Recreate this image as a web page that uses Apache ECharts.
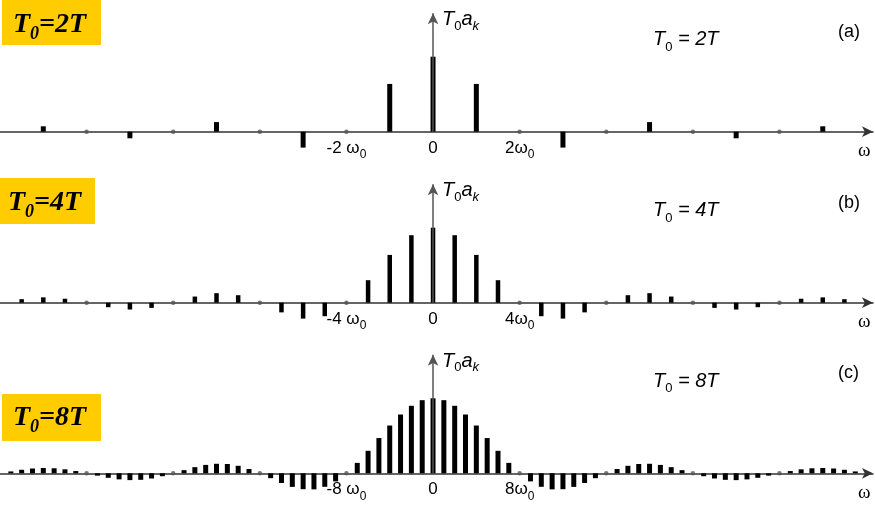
<!DOCTYPE html>
<html><head><meta charset="utf-8">
<script src="https://cdn.jsdelivr.net/npm/echarts@6/dist/echarts.min.js"></script>
<style>html,body{margin:0;padding:0;background:#fff}#c{width:875px;height:508px}</style>
</head><body><div id="c"></div>
<script>
// ---- data (T0*a_k, normalised so that k=0 is 1) ----
const kA = [-9,-8,-7,-6,-5,-4,-3,-2,-1,0,1,2,3,4,5,6,7,8,9];
const valsA = [0.072,0,-0.088,0,0.128,0,-0.212,0,0.637,1,0.637,0,-0.212,0,0.128,0,-0.088,0,0.072];

const kB = [-19,-18,-17,-16,-15,-14,-13,-12,-11,-10,-9,-8,-7,-6,-5,-4,-3,-2,-1,0,1,2,3,4,5,6,7,8,9,10,11,12,13,14,15,16,17,18,19];
const valsB = [0.047,0.071,0.053,0,-0.060,-0.091,-0.069,0,0.082,0.127,0.100,0,-0.129,-0.212,-0.180,0,0.300,0.637,0.900,
  1,
  0.900,0.637,0.300,0,-0.180,-0.212,-0.129,0,0.100,0.127,0.082,0,-0.069,-0.091,-0.060,0,0.053,0.071,0.047];

const kC = [];
for (let k = -39; k <= 39; k++) kC.push(k);
const valsC = [0.025,0.047,0.064,0.071,0.067,0.053,0.030,0,-0.031,-0.060,-0.081,-0.091,-0.087,-0.069,-0.039,0,
  0.042,0.082,0.112,0.127,0.124,0.100,0.057,0,-0.065,-0.129,-0.181,-0.212,-0.214,-0.180,-0.108,0,
  0.139,0.300,0.470,0.637,0.784,0.900,0.975,
  1,
  0.975,0.900,0.784,0.637,0.470,0.300,0.139,0,
  -0.108,-0.180,-0.214,-0.212,-0.181,-0.129,-0.065,0,0.057,0.100,0.124,0.127,0.112,0.082,0.042,0,
  -0.039,-0.069,-0.087,-0.091,-0.081,-0.060,-0.031,0,0.030,0.053,0.067,0.071,0.064,0.047,0.025];

// omega0 for each case, in units where the envelope zeros are at integers
const omega0 = [0.5, 0.25, 0.125];

// tick positions (in multiples of omega0) and labels
const tickKA = [-2, 0, 2];
const tickKB = [-4, 0, 4];
const tickKC = [-8, 0, 8];
const tickLabA = ['{n|-2 ω}{s|0}', '{n|0}', '{n|2ω}{s|0}'];
const tickLabB = ['{n|-4 ω}{s|0}', '{n|0}', '{n|4ω}{s|0}'];
const tickLabC = ['{n|-8 ω}{s|0}', '{n|0}', '{n|8ω}{s|0}'];

const caseNames = ['2T', '4T', '8T'];
const tags = ['(a)', '(b)', '(c)'];

// ---- layout ----
const SANS = 'Liberation Sans';
const SERIF = 'Liberation Serif';
const unitPx = 75;
const yMax = 1.6, yMin = -0.3;
const axisYs = [131.7, 302.7, 473.3];
const barWs = [5, 4.5, 5];
const boxes = [[2, 0, 99, 45], [0, 178, 95, 46], [2, 394, 99, 47]];
const boxTextPos = [[13, 11], [8, 189], [13, 404]];

const panels = [
  {k: kA, v: valsA, ticks: tickKA, labs: tickLabA},
  {k: kB, v: valsB, ticks: tickKB, labs: tickLabB},
  {k: kC, v: valsC, ticks: tickKC, labs: tickLabC}
];

const grid = [], xAxis = [], yAxis = [], series = [], graphic = [];

panels.forEach((p, i) => {
  const w0 = omega0[i];
  const ay = axisYs[i];
  grid.push({left: 0, width: 873, top: ay - yMax * unitPx, height: (yMax - yMin) * unitPx});
  const tickX = p.ticks.map(t => t * w0);
  xAxis.push({
    gridIndex: i, type: 'value', min: -5, max: 5.08,
    axisLine: {onZero: true, lineStyle: {color: '#333', width: 1.5}, symbol: ['none', 'arrow'], symbolSize: [8, 11]},
    axisTick: {show: false}, splitLine: {show: false},
    axisLabel: {
      customValues: tickX, margin: 8 + yMin * unitPx, color: '#000',
      formatter: (val) => {
        let idx = tickX.findIndex(t => Math.abs(t - val) < 1e-6);
        return idx >= 0 ? p.labs[idx] : '';
      },
      rich: {
        n: {fontSize: 17, fontFamily: SANS, color: '#000', verticalAlign: 'top', lineHeight: 18},
        s: {fontSize: 12, fontFamily: SANS, color: '#000', verticalAlign: 'top', lineHeight: 13, padding: [9, 0, 0, 0]}
      }
    },
    name: 'ω', nameLocation: 'end', nameGap: -15,
    nameTextStyle: {fontFamily: SERIF, fontSize: 19, color: '#000', verticalAlign: 'top', align: 'left', padding: [10, 0, 0, 0]}
  });
  yAxis.push({gridIndex: i, type: 'value', min: yMin, max: yMax, show: false});

  series.push({
    type: 'bar', xAxisIndex: i, yAxisIndex: i, barWidth: barWs[i], z: 2,
    itemStyle: {color: '#000'}, silent: true,
    data: p.k.map((k, j) => [k * w0, p.v[j]])
  });
  series.push({
    type: 'scatter', xAxisIndex: i, yAxisIndex: i, z: 4, symbolSize: 4.5,
    itemStyle: {color: '#555'}, silent: true,
    data: p.k.map((k, j) => [k * w0, p.v[j]]).filter(d => d[1] === 0 && d[0] !== 0),
    markLine: {
      silent: true, symbol: ['none', 'arrow'], symbolSize: [8, 11], z: 6,
      lineStyle: {color: '#555', width: 1.5, type: 'solid'}, label: {show: false},
      data: [[{coord: [0, 0]}, {coord: [0, 1.58]}]]
    }
  });

  // labels
  const b = boxes[i];
  graphic.push({type: 'rect', shape: {x: b[0], y: b[1], width: b[2], height: b[3]}, style: {fill: '#FFCC00'}, z: 10});
  graphic.push({
    type: 'text', x: boxTextPos[i][0], y: boxTextPos[i][1], z: 11,
    style: {
      text: '{m|T}{s|0}{m|=' + caseNames[i] + '}',
      rich: {
        m: {fontSize: 28, fontFamily: SERIF, fontWeight: 'bold', fontStyle: 'italic', fill: '#000', verticalAlign: 'top', lineHeight: 30},
        s: {fontSize: 18, fontFamily: SERIF, fontWeight: 'bold', fontStyle: 'italic', fill: '#000', verticalAlign: 'top', lineHeight: 20, padding: [14, 0, 0, 0]}
      }
    }
  });
  graphic.push({
    type: 'text', x: 442, y: ay - 122, z: 11,
    style: {
      text: '{i|T}{s|0}{i|a}{k|k}',
      rich: {
        i: {fontSize: 20, fontFamily: SANS, fontStyle: 'italic', fill: '#000', verticalAlign: 'top', lineHeight: 21},
        s: {fontSize: 13, fontFamily: SANS, fill: '#000', verticalAlign: 'top', lineHeight: 14, padding: [10, 0, 0, 0]},
        k: {fontSize: 13, fontFamily: SANS, fontStyle: 'italic', fill: '#000', verticalAlign: 'top', lineHeight: 14, padding: [10, 0, 0, 0]}
      }
    }
  });
  graphic.push({
    type: 'text', x: 653, y: ay - 102, z: 11,
    style: {
      text: '{i|T}{s|0}{i| = ' + caseNames[i] + '}',
      rich: {
        i: {fontSize: 20, fontFamily: SANS, fontStyle: 'italic', fill: '#000', verticalAlign: 'top', lineHeight: 21},
        s: {fontSize: 13, fontFamily: SANS, fill: '#000', verticalAlign: 'top', lineHeight: 14, padding: [11, 0, 0, 0]}
      }
    }
  });
  graphic.push({
    type: 'text', x: 838, y: ay - 109, z: 11,
    style: {text: tags[i], fontSize: 18, fontFamily: SANS, fill: '#000', verticalAlign: 'top'}
  });
});

const chart = echarts.init(document.getElementById('c'), null, {renderer: 'canvas'});
chart.setOption({animation: false, grid, xAxis, yAxis, series, graphic});
</script></body></html>
